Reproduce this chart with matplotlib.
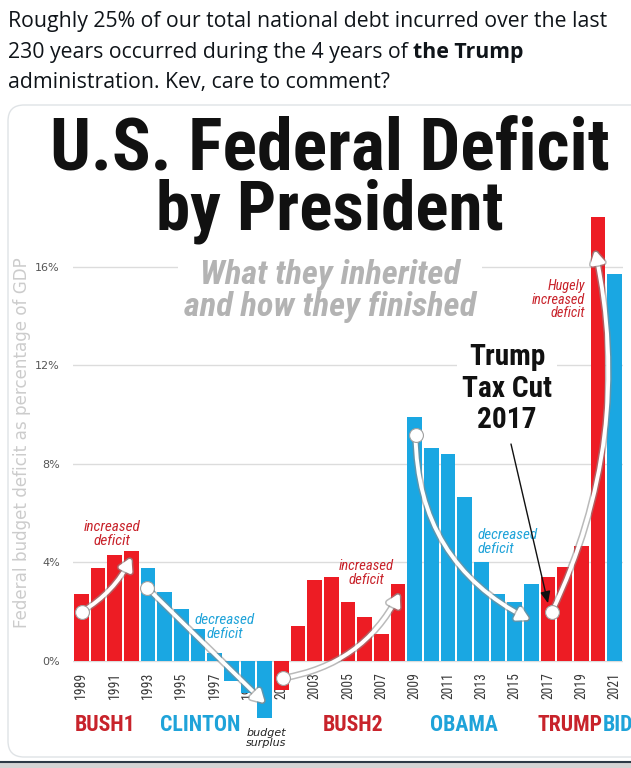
import matplotlib
matplotlib.use('Agg')
import matplotlib.pyplot as plt
import matplotlib.patheffects as pe
from matplotlib import font_manager
from matplotlib.patches import FancyArrowPatch, FancyBboxPatch

# data (deficit as % of GDP)
anos = list(range(1989, 2022))
deficit = [2.7, 3.75, 4.3, 4.45,                      # Bush1
           3.75, 2.8, 2.1, 1.3, 0.3, -0.8, -1.3, -2.3,  # Clinton
           -1.2, 1.4, 3.3, 3.4, 2.4, 1.8, 1.1, 3.1,     # Bush2
           9.9, 8.65, 8.4, 6.65, 4.0, 2.7, 2.4, 3.1,    # Obama
           3.4, 3.8, 4.65, 18.0,                      # Trump
           15.7]                                      # Biden
partido = ['R'] * 4 + ['D'] * 8 + ['R'] * 8 + ['D'] * 8 + ['R'] * 4 + ['D']
presidentes = ['BUSH1', 'CLINTON', 'BUSH2', 'OBAMA', 'TRUMP', 'BID']
centros = [1990.42, 1996.12, 2005.3, 2011.96, 2018.35, 2020.3]
yticks = [0, 4, 8, 12, 16]

ROJO = '#ed1c24'
AZUL = '#1aa7e2'
ROJO_TXT = '#c8232b'
AZUL_TXT = '#1fa3d9'

# buscar una fuente estrecha, si no hay usar Roboto
instaladas = {f.name for f in font_manager.fontManager.ttflist}
NARROW = 'Roboto'
for nom in ['Liberation Sans Narrow', 'Roboto Condensed', 'DejaVu Sans Condensed',
            'Open Sans Condensed', 'Noto Sans Condensed']:
    if nom in instaladas:
        NARROW = nom
        break
TWEET = 'Open Sans' if 'Open Sans' in instaladas else 'DejaVu Sans'

fig = plt.figure(figsize=(6.31, 7.68), dpi=100)
renderer = fig.canvas.get_renderer()
W, H = 631, 768


def fx(px):
    return px / W


def fy(py):
    return 1 - py / H


def ajustar(t, ancho, vertical=False):
    # escala la fuente para que el texto mida 'ancho' pixeles
    bb = t.get_window_extent(renderer)
    medida = bb.height if vertical else bb.width
    t.set_fontsize(t.get_fontsize() * ancho / medida)
    return t.get_fontsize()


# tweet text
t1 = fig.text(fx(8), fy(27), 'Roughly 25% of our total national debt incurred over the last',
              fontsize=14, family=TWEET, color='#0f1419', va='baseline')
tam = ajustar(t1, 603)
t2 = fig.text(fx(8), fy(58), '230 years occurred during the 4 years of ',
              fontsize=tam, family=TWEET, color='#0f1419', va='baseline')
bb = t2.get_window_extent(renderer)
fig.text(bb.x1 / W, fy(58), 'the Trump', fontsize=tam, family=TWEET,
         weight='bold', color='#0f1419', va='baseline')
fig.text(fx(8), fy(88), 'administration. Kev, care to comment?',
         fontsize=tam, family=TWEET, color='#0f1419', va='baseline')

# card
card = FancyBboxPatch((0.08, (768 - 757) / 100), 6.6, (757 - 105) / 100,
                      boxstyle='round,pad=0,rounding_size=0.16',
                      transform=fig.dpi_scale_trans, facecolor='white',
                      edgecolor='#dfe3e6', lw=1, zorder=-1)
fig.patches.append(card)
fig.add_artist(plt.Line2D([0, 1], [fy(762), fy(762)], color='#2d3945', lw=1.5))
fig.patches.append(plt.Rectangle((0, 0), 1, fy(763), transform=fig.transFigure,
                                 facecolor='#d4d4d4', edgecolor='none', zorder=-1))

# titles
tt = fig.text(fx(330), fy(170), 'U.S. Federal Deficit', family=NARROW, weight='bold',
              fontsize=50, ha='center', va='baseline', color='#111111')
ajustar(tt, 560)
tt2 = fig.text(fx(330), fy(229), 'by President', family=NARROW, weight='bold',
               fontsize=50, ha='center', va='baseline', color='#111111')
ajustar(tt2, 348)
yl = fig.text(fx(22), fy(443), 'Federal budget deficit as percentage of GDP', rotation=90,
              ha='center', va='center', fontsize=11.5, color='#cccccc')
ajustar(yl, 375, vertical=True)

ax = fig.add_axes([fx(73), fy(720), fx(623) - fx(73), fy(205) - fy(720)])
ax.set_xlim(1988.5, 2021.5)
ax.set_ylim(-2.4, 18.5)
ax.patch.set_alpha(0)
for s in ax.spines.values():
    s.set_visible(False)
for v in yticks:
    ax.axhline(v, color='#dcdcdc', lw=1, zorder=1)
ax.set_yticks(yticks)
ax.set_yticklabels([f'{v}%' for v in yticks], fontsize=8, color='#555555')
ax.tick_params(axis='y', length=0, pad=9.5)
ax.set_xticks([])

colores = [ROJO if p == 'R' else AZUL for p in partido]
ax.bar(anos, deficit, width=0.88, color=colores, zorder=3)

for a in range(1989, 2022, 2):
    ty = ax.text(a, -0.45, str(a), rotation=90, ha='center', va='top', family=NARROW,
                 fontsize=9, color='#3a3a3a', zorder=2)
    ajustar(ty, 27, vertical=True)

# president labels
for nombre, cx, i in zip(presidentes, centros, range(len(presidentes))):
    col = ROJO_TXT if i % 2 == 0 else AZUL_TXT
    ha = 'left' if nombre == 'BID' else 'center'
    tp = ax.text(cx, -2.6, nombre, ha=ha, va='center', family=NARROW, weight='bold',
                 fontsize=16, color=col, clip_on=False)
    if nombre == 'BUSH1':
        tam = ajustar(tp, 61)
    else:
        tp.set_fontsize(tam)
ax.text(2000.08, -3.13, 'budget\nsurplus', ha='center', va='center', style='italic',
        fontsize=8, color='#222222', linespacing=1.0, clip_on=False)

# annotations
sombra = [pe.Stroke(linewidth=5, foreground='#8c8c8c', alpha=0.6), pe.Normal()]
flechas = [((1989.04, 2.0), (1992.0, 4.2), 0.15),
           ((1992.95, 2.96), (2000.02, -1.72), 0.0),
           ((2001.1, -0.7), (2008.1, 2.75), 0.25),
           ((2009.05, 9.15), (2015.92, 1.66), 0.3),
           ((2017.23, 1.98), (2019.82, 16.67), 0.17)]
for ini, fin, rad in flechas:
    ar = FancyArrowPatch(ini, fin, connectionstyle=f'arc3,rad={rad}',
                         arrowstyle='-|>,head_length=7,head_width=4', color='white',
                         lw=2.8, zorder=5, shrinkA=0, shrinkB=0)
    ar.set_path_effects(sombra)
    ax.add_patch(ar)
    ax.plot(*ini, 'o', ms=10, mfc='white', mec='#a0a0a0', mew=0.8, zorder=6)

ax.add_patch(FancyArrowPatch((2014.78, 8.8), (2017.0, 2.34),
                             arrowstyle='-|>,head_length=7,head_width=3',
                             color='#111111', lw=1, zorder=7, shrinkA=0, shrinkB=0))

notas = [(1990.84, 5.15, 'increased\ndeficit', 'center', ROJO_TXT, 57),
         (1997.62, 1.37, 'decreased\ndeficit', 'center', AZUL_TXT, 60),
         (2006.08, 3.57, 'increased\ndeficit', 'center', ROJO_TXT, 55),
         (2012.74, 4.83, 'decreased\ndeficit', 'left', AZUL_TXT, 60),
         (2019.22, 14.65, 'Hugely\nincreased\ndeficit', 'right', ROJO_TXT, 53)]
for x, y, txt, ha, col, ancho in notas:
    tn = ax.text(x, y, txt, ha=ha, va='center', family=NARROW, style='italic',
                 fontsize=10, color=col, linespacing=0.95, zorder=6)
    ajustar(tn, ancho)

ts = ax.text(2003.92, 15.0, 'What they inherited\nand how they finished', ha='center',
             va='center', family=NARROW, weight='bold', style='italic', fontsize=22,
             color='#b3b3b3', linespacing=1.0, zorder=4,
             bbox=dict(facecolor='white', edgecolor='none', pad=4))
ajustar(ts, 292)
tc = ax.text(2014.54, 11.05, 'Trump\nTax Cut\n2017', ha='center', va='center',
             family=NARROW, weight='bold', fontsize=22, color='#111111',
             linespacing=1.15, zorder=4,
             bbox=dict(facecolor='white', edgecolor='none', pad=4))
ajustar(tc, 90)

fig.savefig('out.png', dpi=100)
